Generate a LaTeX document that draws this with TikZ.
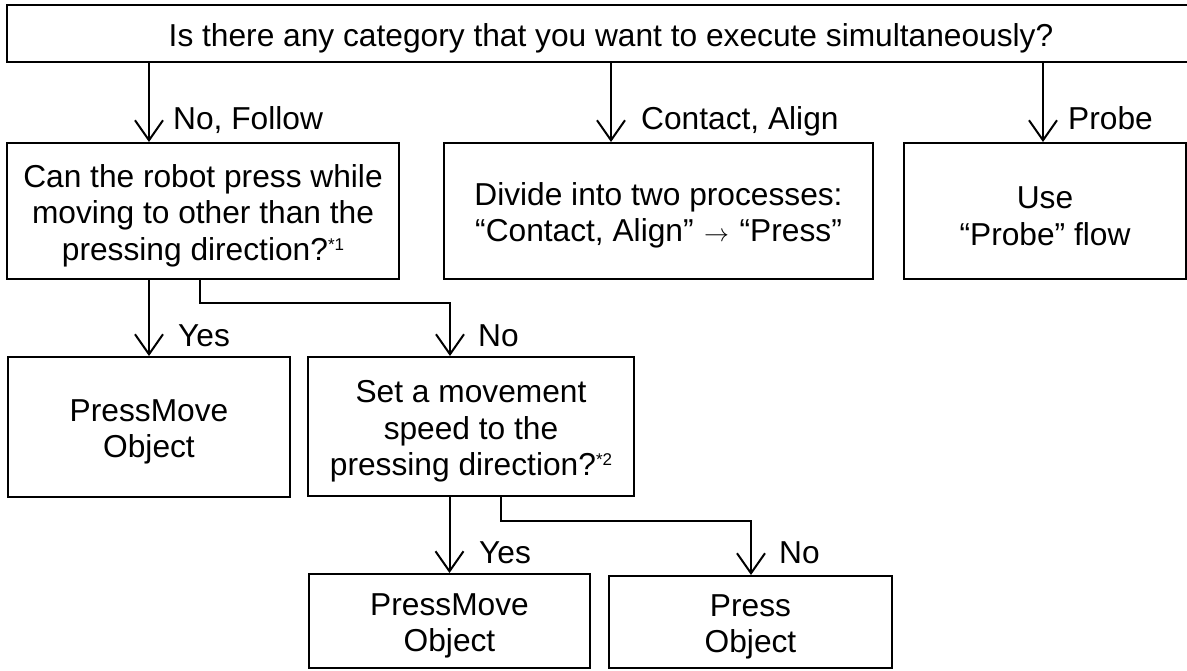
\documentclass[tikz,border=0pt]{standalone}
\usepackage{fontspec}
\setmainfont{Liberation Sans}
\usetikzlibrary{arrows.meta}
\newcommand{\supnote}[1]{\raisebox{10pt}{\fontsize{17}{17}\selectfont #1}}
\newcommand{\fl}{\rule{0pt}{32pt}}
\begin{document}
\begin{tikzpicture}[x=1pt,y=-1pt,
  box/.style={draw, line width=2pt, inner sep=0pt, align=center,
    font=\fontsize{31.7}{36.5}\selectfont},
  lbl/.style={anchor=base west, inner sep=0pt, font=\fontsize{31.7}{36.5}\selectfont},
  arr/.style={line width=2pt, -{Straight Barb[length=20pt,width=28pt,line width=2pt]}}]
\useasboundingbox (0,0) rectangle (1187,670);
% boxes
\node[box, minimum width=1183pt, minimum height=57pt] (top) at (598.5,33.5)
  {\fl\hspace*{25pt}Is there any category that you want to execute simultaneously?};
\node[box, minimum width=392pt, minimum height=136pt] (b1) at (203,211)
  {\fl Can the robot press while\\moving to other than the\\pressing direction?\supnote{*1}};
\node[box, minimum width=429pt, minimum height=136pt] (b2) at (658.5,211)
  {\fl Divide into two processes:\\“Contact, Align”\,\,$\rightarrow$\,\,“Press”};
\node[box, minimum width=282pt, minimum height=136pt] (b3) at (1045,211)
  {\fl Use\\“Probe” flow};
\node[box, minimum width=282pt, minimum height=140pt] (pm1) at (149,427)
  {\fl PressMove\\Object};
\node[box, minimum width=326pt, minimum height=139pt] (sm) at (471,426.5)
  {\fl Set a movement\\speed to the\\pressing direction?\supnote{*2}};
\node[box, minimum width=281pt, minimum height=94pt] (pm2) at (449.5,621)
  {\fl PressMove\\Object};
\node[box, minimum width=283pt, minimum height=92pt] (pr) at (750.5,622)
  {\fl Press\\Object};
% helper coordinates
\coordinate (x2) at (611,0);
\coordinate (x3) at (1043,0);
\coordinate (e1) at (200,303);
\coordinate (k1) at (450,303);
\coordinate (e2) at (501,521);
\coordinate (k2) at (751,521);
% connectors
\draw[arr] (top.south -| pm1.north) -- (b1.north -| pm1.north);
\draw[arr] (top.south -| x2) -- (b2.north -| x2);
\draw[arr] (top.south -| x3) -- (b3.north -| x3);
\draw[arr] (b1.south -| pm1.north) -- (pm1.north);
\draw[arr] (b1.south -| e1) -- (e1) -- (k1) -- (sm.north -| k1);
\draw[arr] (sm.south -| pm2.north) -- (pm2.north);
\draw[arr] (sm.south -| e2) -- (e2) -- (k2) -- (pr.north -| k2);
% labels
\node[lbl] (l1) at (173,129.5) {No, Follow};
\node[lbl] (l2) at (641,129.5) {Contact, Align};
\node[lbl] (l3) at (1068,129.5) {Probe};
\node[lbl] (l4) at (178,346) {Yes};
\node[lbl] (l5) at (478,346) {No};
\node[lbl] (l6) at (479,563) {Yes};
\node[lbl] (l7) at (779,563) {No};
\end{tikzpicture}
\end{document}
